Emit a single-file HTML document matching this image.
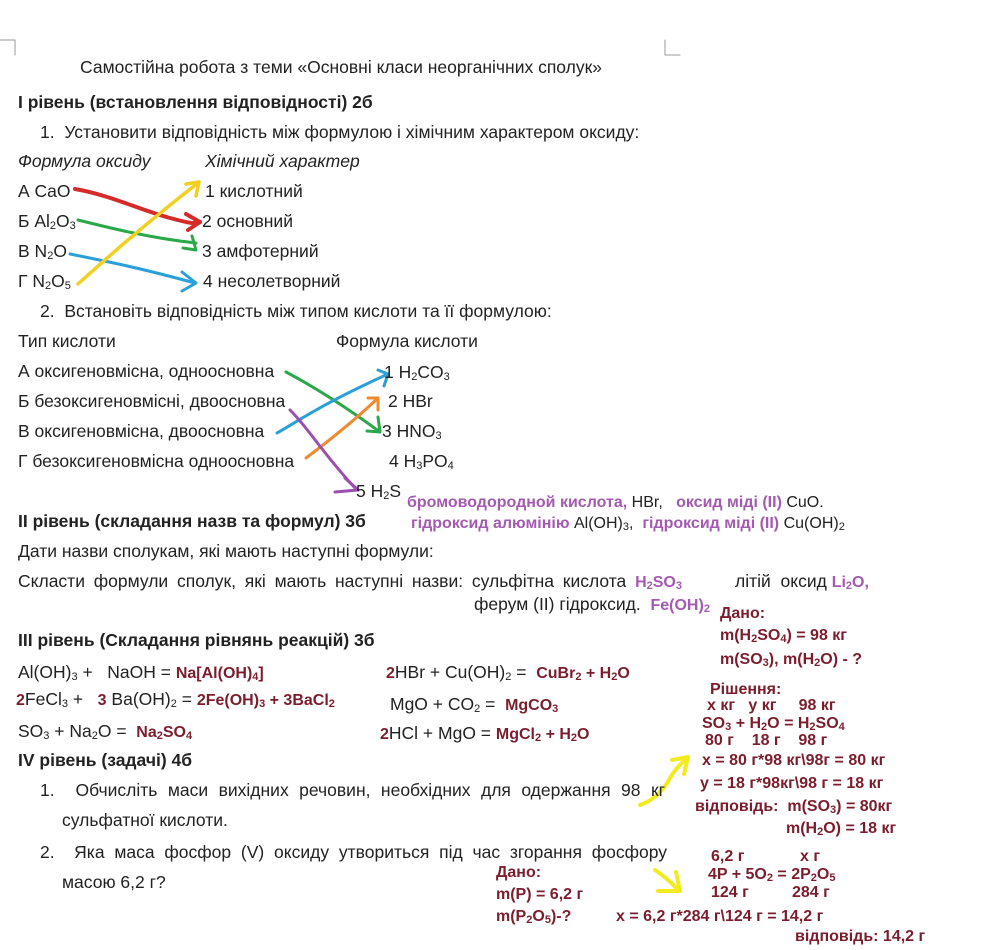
<!DOCTYPE html>
<html><head><meta charset="utf-8"><style>
body{margin:0;width:997px;height:950px;background:#fff;position:relative;overflow:hidden;font-family:"Liberation Sans",sans-serif;color:#222}
.t{position:absolute;white-space:nowrap;font-size:17.5px;line-height:20px}
.j{position:absolute;font-size:17.5px;line-height:20px;text-align:justify;text-align-last:justify;white-space:normal}
.b{font-weight:bold}
.i{font-style:italic}
.r{color:#7b1d2c;font-weight:bold;font-size:16px}
.p{color:#a45ab0;font-weight:bold;font-size:16px}
sub{font-size:11px;vertical-align:-2px;line-height:0}
svg{position:absolute;left:0;top:0}
</style></head><body>
<svg width="997" height="950" fill="none" stroke-linecap="round" stroke-linejoin="round">
<path d="M0 40 H15 V55" stroke="#999" stroke-width="1"/>
<path d="M665 40 V55 H680" stroke="#999" stroke-width="1"/>
<path d="M75 189 C110 195 140 210 170 218 S190 222 200 222" stroke="#d62b2b" stroke-width="4"/>
<path d="M186 214 L200 222 L188 230" stroke="#d62b2b" stroke-width="4"/>
<path d="M78 220 C110 228 150 238 196 243" stroke="#2aa84a" stroke-width="3"/>
<path d="M192 236 L196 250 L183 248" stroke="#2aa84a" stroke-width="3"/>
<path d="M70 254 C110 262 140 268 195 283" stroke="#2a9fd8" stroke-width="3"/>
<path d="M182 272 L196 283 L182 291" stroke="#2a9fd8" stroke-width="3"/>
<path d="M78 284 C110 255 150 220 198 183" stroke="#f0d020" stroke-width="3.5"/>
<path d="M186 184 L199 182 L196 196" stroke="#f0d020" stroke-width="3.5"/>
<path d="M286 372 C320 390 350 410 380 432" stroke="#2aa84a" stroke-width="3"/>
<path d="M378 417 L380 432 L367 431" stroke="#2aa84a" stroke-width="3"/>
<path d="M277 433 C300 420 320 405 388 374" stroke="#2a9fd8" stroke-width="3"/>
<path d="M378 370 L388 374 L384 386" stroke="#2a9fd8" stroke-width="3"/>
<path d="M306 458 C330 440 355 420 378 398" stroke="#f08a30" stroke-width="3"/>
<path d="M368 398 L378 398 L378 410" stroke="#f08a30" stroke-width="3"/>
<path d="M290 410 C310 430 320 450 355 488" stroke="#9b4fb0" stroke-width="3"/>
<path d="M335 492 L358 490 L345 478" stroke="#9b4fb0" stroke-width="3"/>
<path d="M640 805 C655 800 665 788 670 778 C676 768 682 762 688 758" stroke="#f2ec1e" stroke-width="4"/>
<path d="M672 760 L688 757 L684 774" stroke="#f2ec1e" stroke-width="4"/>
<path d="M655 870 C664 876 672 883 678 890" stroke="#f2ec1e" stroke-width="4"/>
<path d="M658 891 L680 891 L676 872" stroke="#f2ec1e" stroke-width="4"/>
</svg>
<div class="t" style="left:80px;top:57px">Самостійна робота з теми «Основні класи неорганічних сполук»</div>
<div class="t b" style="left:18px;top:92px">І рівень (встановлення відповідності) 2б</div>
<div class="t" style="left:40px;top:122px">1.&nbsp; Установити відповідність між формулою і хімічним характером оксиду:</div>
<div class="t i" style="left:18px;top:151px">Формула оксиду</div>
<div class="t i" style="left:205px;top:151px">Хімічний характер</div>
<div class="t" style="left:18px;top:181px">А CaO</div>
<div class="t" style="left:18px;top:211px">Б Al<sub>2</sub>O<sub>3</sub></div>
<div class="t" style="left:18px;top:241px">В N<sub>2</sub>O</div>
<div class="t" style="left:18px;top:271px">Г N<sub>2</sub>O<sub>5</sub></div>
<div class="t" style="left:205px;top:181px">1 кислотний</div>
<div class="t" style="left:202px;top:211px">2 основний</div>
<div class="t" style="left:202px;top:241px">3 амфотерний</div>
<div class="t" style="left:203px;top:271px">4 несолетворний</div>
<div class="t" style="left:40px;top:301px">2.&nbsp; Встановіть відповідність між типом кислоти та її формулою:</div>
<div class="t" style="left:18px;top:331px">Тип кислоти</div>
<div class="t" style="left:336px;top:331px">Формула кислоти</div>
<div class="t" style="left:18px;top:361px">А оксигеновмісна, одноосновна</div>
<div class="t" style="left:18px;top:391px">Б безоксигеновмісні, двоосновна</div>
<div class="t" style="left:18px;top:421px">В оксигеновмісна, двоосновна</div>
<div class="t" style="left:18px;top:451px">Г безоксигеновмісна одноосновна</div>
<div class="t" style="left:384px;top:362px">1 H<sub>2</sub>CO<sub>3</sub></div>
<div class="t" style="left:388px;top:391px">2 HBr</div>
<div class="t" style="left:382px;top:421px">3 HNO<sub>3</sub></div>
<div class="t" style="left:389px;top:451px">4 H<sub>3</sub>PO<sub>4</sub></div>
<div class="t" style="left:356px;top:481px">5 H<sub>2</sub>S</div>
<div class="t" style="left:407px;top:493px;font-size:16px"><span class="p">бромоводородной кислота,</span> HBr,&nbsp;&nbsp; <span class="p">оксид міді (ІІ)</span> CuO.</div>
<div class="t" style="left:411px;top:514px;font-size:16px"><span class="p">гідроксид алюмінію</span> Al(OH)<sub>3</sub>,&nbsp; <span class="p">гідроксид міді (ІІ)</span> Cu(OH)<sub>2</sub></div>
<div class="t b" style="left:18px;top:511px">ІІ рівень (складання назв та формул) 3б</div>
<div class="t" style="left:18px;top:541px">Дати назви сполукам, які мають наступні формули:</div>
<div class="j" style="left:18px;top:571px;width:664px">Скласти формули сполук, які мають наступні назви: сульфітна кислота <span class="p">H<sub>2</sub>SO<sub>3</sub></span></div>
<div class="t" style="left:735px;top:571px">літій&nbsp; оксид <span class="p">Li<sub>2</sub>O,</span></div>
<div class="t" style="left:474px;top:594px">ферум (ІІ) гідроксид.&nbsp; <span class="p">Fe(OH)<sub>2</sub></span></div>
<div class="t r" style="left:720px;top:604px">Дано:</div>
<div class="t r" style="left:720px;top:626px">m(H<sub>2</sub>SO<sub>4</sub>) = 98 кг</div>
<div class="t r" style="left:720px;top:650px">m(SO<sub>3</sub>), m(H<sub>2</sub>O) - ?</div>
<div class="t b" style="left:18px;top:630px">ІІІ рівень (Складання рівнянь реакцій) 3б</div>
<div class="t" style="left:18px;top:662px">Al(OH)<sub>3</sub> +&nbsp;&nbsp; NaOH = <span class="r">Na[Al(OH)<sub>4</sub>]</span></div>
<div class="t" style="left:386px;top:662px"><span class="r">2</span>HBr + Cu(OH)<sub>2</sub> =&nbsp; <span class="r">CuBr<sub>2</sub> + H<sub>2</sub>O</span></div>
<div class="t" style="left:16px;top:689px"><span class="r">2</span>FeCl<sub>3</sub> +&nbsp;&nbsp; <span class="r">3</span> Ba(OH)<sub>2</sub> = <span class="r">2Fe(OH)<sub>3</sub> + 3BaCl<sub>2</sub></span></div>
<div class="t" style="left:390px;top:694px">MgO + CO<sub>2</sub> =&nbsp; <span class="r">MgCO<sub>3</sub></span></div>
<div class="t r" style="left:710px;top:680px">Рішення:</div>
<div class="t r" style="left:707px;top:696px">х кг&nbsp;&nbsp; у кг&nbsp;&nbsp;&nbsp;&nbsp; 98 кг</div>
<div class="t r" style="left:702px;top:714px">SO<sub>3</sub> + H<sub>2</sub>O = H<sub>2</sub>SO<sub>4</sub></div>
<div class="t r" style="left:705px;top:731px">80 г&nbsp;&nbsp;&nbsp; 18 г&nbsp;&nbsp;&nbsp; 98 г</div>
<div class="t" style="left:18px;top:721px">SO<sub>3</sub> + Na<sub>2</sub>O =&nbsp; <span class="r">Na<sub>2</sub>SO<sub>4</sub></span></div>
<div class="t" style="left:380px;top:723px"><span class="r">2</span>HCl + MgO = <span class="r">MgCl<sub>2</sub> + H<sub>2</sub>O</span></div>
<div class="t b" style="left:18px;top:750px">IV рівень (задачі) 4б</div>
<div class="t r" style="left:702px;top:751px">х = 80 г*98 кг\98г = 80 кг</div>
<div class="t r" style="left:700px;top:774px">у = 18 г*98кг\98 г = 18 кг</div>
<div class="t r" style="left:695px;top:797px">відповідь:&nbsp; m(SO<sub>3</sub>) = 80кг</div>
<div class="t r" style="left:786px;top:819px">m(H<sub>2</sub>O) = 18 кг</div>
<div class="j" style="left:40px;top:780px;width:625px">1.&nbsp; Обчисліть маси вихідних речовин, необхідних для одержання 98 кг</div>
<div class="t" style="left:62px;top:810px">сульфатної кислоти.</div>
<div class="j" style="left:40px;top:842px;width:627px">2.&nbsp; Яка маса фосфор (V) оксиду утвориться під час згорання фосфору</div>
<div class="t" style="left:62px;top:872px">масою 6,2 г?</div>
<div class="t r" style="left:711px;top:847px">6,2 г</div>
<div class="t r" style="left:800px;top:847px">х г</div>
<div class="t r" style="left:708px;top:865px">4P + 5O<sub>2</sub> = 2P<sub>2</sub>O<sub>5</sub></div>
<div class="t r" style="left:711px;top:883px">124 г</div>
<div class="t r" style="left:792px;top:883px">284 г</div>
<div class="t r" style="left:496px;top:863px">Дано:</div>
<div class="t r" style="left:496px;top:885px">m(P) = 6,2 г</div>
<div class="t r" style="left:496px;top:907px">m(P<sub>2</sub>O<sub>5</sub>)-?</div>
<div class="t r" style="left:616px;top:907px">х = 6,2 г*284 г\124 г = 14,2 г</div>
<div class="t r" style="left:795px;top:927px">відповідь: 14,2 г</div>
</body></html>
